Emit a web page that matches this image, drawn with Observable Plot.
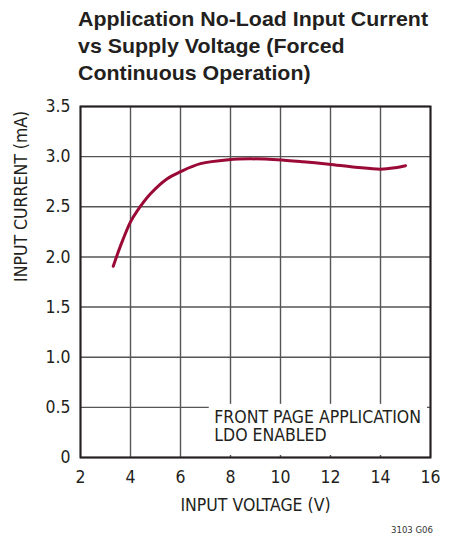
<!DOCTYPE html>
<html>
<head>
<meta charset="utf-8">
<script src="https://cdn.jsdelivr.net/npm/d3@7"></script>
<script src="https://cdn.jsdelivr.net/npm/@observablehq/plot@0.6"></script>
<style>
  html, body { margin: 0; padding: 0; background: #fff; }
  body { width: 455px; height: 538px; position: relative; overflow: hidden;
         font-family: "DejaVu Sans Condensed", sans-serif; }
  #title { position: absolute; left: 78px; top: 6px; font-family: "Liberation Sans", Arial, sans-serif;
           font-weight: bold; font-size: 21px; line-height: 26.8px; color: #231f20;
           white-space: nowrap; transform-origin: 0 0; }
  #title span { display: inline-block; }
  #chart { position: absolute; left: 0; top: 92px; }
  #code { position: absolute; right: 22px; top: 524px; font-size: 9.5px; line-height: 11px; color: #333; }
</style>
</head>
<body>
<div id="title"><span id="t1">Application No-Load Input Current</span><br><span>vs Supply Voltage (Forced</span><br><span>Continuous Operation)</span></div>
<div id="chart"></div>
<div id="code">3103 G06</div>
<script>
const voltage = [3.31, 3.6, 4.0, 4.27, 4.8, 5.47, 6.0, 6.8, 7.93, 8.8, 9.87, 10.9, 11.93, 13.0, 14.0, 14.6, 15.0];
const current = [1.907, 2.11, 2.35, 2.46, 2.63, 2.78, 2.85, 2.93, 2.97, 2.978, 2.97, 2.95, 2.925, 2.895, 2.875, 2.89, 2.91];
const xTicks = [2, 4, 6, 8, 10, 12, 14, 16];
const yTicks = [0, 0.5, 1.0, 1.5, 2.0, 2.5, 3.0, 3.5];
const yTickLabels = ["0", "0.5", "1.0", "1.5", "2.0", "2.5", "3.0", "3.5"];
const noteLines = ["FRONT PAGE APPLICATION", "LDO ENABLED"];

const data = voltage.map((v, i) => ({v, c: current[i]}));
const font = '"DejaVu Sans Condensed", sans-serif';

const chart = Plot.plot({
  width: 455,
  height: 430,
  marginLeft: 80,
  marginRight: 25,
  marginTop: 14,
  marginBottom: 65,
  style: { fontFamily: font, fontSize: "17px", color: "#231f20", background: "#fff" },
  x: { domain: [2, 16], ticks: xTicks, label: null },
  y: { domain: [0, 3.5], ticks: yTicks, label: null },
  marks: [
    Plot.gridX(xTicks, { stroke: "#555", strokeOpacity: 1, strokeWidth: 1.4 }),
    Plot.gridY(yTicks, { stroke: "#555", strokeOpacity: 1, strokeWidth: 1.4 }),
    Plot.rect([0], { x1: 7.15, x2: 15.88, y1: 0.02, y2: 0.53, fill: "#fff" }),
    Plot.text([noteLines.join("\n")], { x: 7.35, y: 0.475, text: d => d, textAnchor: "start", lineAnchor: "top", fontSize: 17.5, lineHeight: 1.05, fill: "#231f20" }),
    Plot.line(data, { x: "v", y: "c", curve: "catmull-rom", stroke: "#9b0a37", strokeWidth: 3 }),
    Plot.frame({ stroke: "#231f20", strokeWidth: 2 }),
    Plot.axisX(xTicks, { tickSize: 0, tickPadding: 13, fontSize: 17.5, label: null }),
    Plot.axisY(yTicks, { tickSize: 0, tickPadding: 10, fontSize: 17.5, tickFormat: d => yTickLabels[yTicks.indexOf(d)], label: null }),
    Plot.text(["INPUT VOLTAGE (V)"], { frameAnchor: "bottom", dy: 53, text: d => d, fontSize: 17.5 }),
    Plot.text(["INPUT CURRENT (mA)"], { frameAnchor: "left", dx: -59, rotate: -90, text: d => d, fontSize: 17.5 })
  ]
});
document.getElementById("chart").appendChild(chart);

const title = document.getElementById("title");
const w = document.getElementById("t1").getBoundingClientRect().width;
title.style.transform = `scaleX(${350 / w})`;
</script>
</body>
</html>
